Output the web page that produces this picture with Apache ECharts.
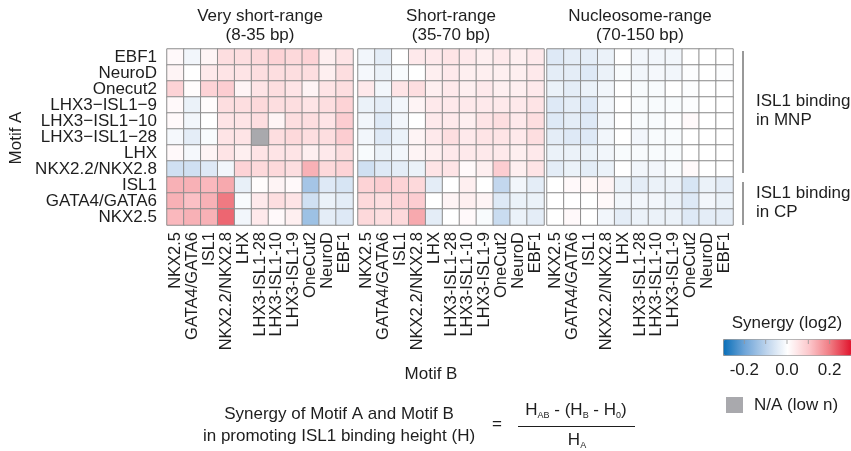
<!DOCTYPE html>
<html>
<head>
<meta charset="utf-8">
<script src="https://cdn.jsdelivr.net/npm/echarts@6/dist/echarts.min.js"></script>
<style>
  html, body { margin: 0; padding: 0; background: #fff; }
  #chart { width: 851px; height: 451px; }
</style>
</head>
<body>
<div id="chart"></div>
<script>
// Motif A (rows, top to bottom) and Motif B (columns, left to right)
const motifA = ['EBF1', 'NeuroD', 'Onecut2', 'LHX3\u2212ISL1\u22129', 'LHX3\u2212ISL1\u221210', 'LHX3\u2212ISL1\u221228', 'LHX', 'NKX2.2/NKX2.8', 'ISL1', 'GATA4/GATA6', 'NKX2.5']
const motifB = ['NKX2.5', 'GATA4/GATA6', 'ISL1', 'NKX2.2/NKX2.8', 'LHX', 'LHX3-ISL1-28', 'LHX3-ISL1-10', 'LHX3-ISL1-9', 'OneCut2', 'NeuroD', 'EBF1']
const panelTitles = ['Very short-range', 'Short-range', 'Nucleosome-range']
const panelRanges = ['(8-35 bp)', '(35-70 bp)', '(70-150 bp)']

// synergy (log2), null = N/A (low n)
const veryShort = [
  [0.01, -0.02, 0.02, 0.06, 0.06, 0.07, 0.08, 0.07, 0.08, 0.03, 0.05],
  [0.02, 0.0, 0.04, 0.05, 0.05, 0.06, 0.06, 0.06, 0.06, 0.03, 0.06],
  [0.08, 0.005, 0.08, 0.09, 0.02, 0.05, 0.06, 0.05, 0.02, 0.05, 0.06],
  [0.01, -0.03, 0.005, 0.06, 0.06, 0.07, 0.06, 0.06, 0.05, 0.06, 0.08],
  [0.01, -0.02, 0.0, 0.05, 0.05, 0.06, 0.02, 0.06, 0.06, 0.05, 0.09],
  [-0.015, -0.04, -0.01, 0.05, 0.05, null, 0.06, 0.07, 0.06, 0.06, 0.09],
  [0.01, -0.015, 0.02, 0.05, 0.03, 0.05, 0.05, 0.05, 0.03, 0.04, 0.06],
  [-0.07, -0.07, -0.05, -0.02, 0.08, 0.07, 0.07, 0.06, 0.13, 0.07, 0.08],
  [0.13, 0.13, 0.12, 0.14, -0.035, 0.005, 0.02, 0.01, -0.13, -0.05, -0.06],
  [0.13, 0.11, 0.13, 0.2, -0.01, 0.04, 0.06, 0.05, -0.07, -0.03, -0.04],
  [0.12, 0.13, 0.13, 0.22, -0.02, 0.04, 0.01, 0.03, -0.14, -0.04, -0.05]
]
const shortRange = [
  [-0.02, -0.04, 0.0, 0.04, 0.04, 0.05, 0.04, 0.03, 0.04, 0.03, 0.04],
  [-0.015, -0.03, -0.01, 0.0, 0.03, 0.04, 0.03, 0.03, 0.03, 0.03, 0.04],
  [0.04, -0.02, 0.05, 0.06, 0.03, 0.04, 0.03, 0.04, 0.03, 0.03, 0.04],
  [-0.03, -0.04, -0.02, 0.02, 0.04, 0.04, 0.04, 0.04, 0.04, 0.04, 0.05],
  [-0.02, -0.05, -0.02, 0.0, 0.04, 0.04, 0.03, 0.05, 0.06, 0.04, 0.06],
  [-0.02, -0.05, -0.03, 0.02, 0.04, 0.06, 0.04, 0.05, 0.05, 0.04, 0.06],
  [-0.01, -0.03, -0.02, 0.02, 0.03, 0.04, 0.04, 0.04, 0.04, 0.03, 0.04],
  [-0.07, -0.05, -0.04, -0.03, 0.05, 0.05, 0.01, 0.03, 0.09, 0.03, 0.05],
  [0.08, 0.09, 0.08, 0.07, -0.04, 0.0, 0.03, 0.0, -0.09, -0.02, -0.04],
  [0.07, 0.06, 0.08, 0.09, 0.0, 0.02, 0.03, 0.02, -0.05, -0.03, -0.03],
  [0.07, 0.06, 0.07, 0.14, -0.04, 0.0, 0.01, -0.01, -0.08, -0.03, -0.04]
]
const nucleosome = [
  [-0.05, -0.04, -0.04, -0.03, 0.0, -0.02, -0.02, -0.02, 0.0, 0.0, 0.0],
  [-0.04, -0.04, -0.05, -0.03, -0.01, -0.02, -0.015, -0.02, -0.005, 0.0, -0.005],
  [-0.03, -0.04, -0.03, -0.02, 0.0, -0.01, -0.01, 0.0, -0.005, 0.0, 0.0],
  [-0.05, -0.04, -0.05, -0.02, 0.0, -0.01, -0.01, -0.01, -0.005, 0.0, 0.0],
  [-0.05, -0.04, -0.05, -0.02, 0.0, -0.01, -0.01, -0.005, 0.01, 0.0, 0.0],
  [-0.04, -0.05, -0.05, -0.02, 0.0, -0.02, -0.01, -0.01, 0.0, 0.0, 0.0],
  [-0.03, -0.03, -0.03, -0.02, -0.01, -0.01, -0.01, -0.01, 0.0, 0.0, 0.0],
  [-0.04, -0.03, -0.04, -0.03, 0.0, -0.02, -0.02, -0.01, 0.01, 0.0, 0.0],
  [0.0, 0.01, 0.015, 0.02, -0.03, -0.04, -0.03, -0.03, -0.06, -0.03, -0.04],
  [0.0, 0.0, 0.0, 0.01, -0.02, -0.02, -0.02, -0.03, -0.05, -0.02, -0.03],
  [0.0, 0.01, 0.0, -0.02, -0.04, -0.03, -0.03, -0.03, -0.05, -0.04, -0.04]
]
const colorTicks = [-0.2, 0.0, 0.2]

const chart = echarts.init(document.getElementById('chart'))
const font = '"Liberation Sans", Arial, sans-serif'
const ink = '#1e1e1e'
const panels = [veryShort, shortRange, nucleosome]
const gridLeft = [167, 358, 547]
const gridTop = 49
const gridW = 186
const gridH = 176
const vmin = -0.3
const vmax = 0.3
const barLeft = 723
const barLen = 128

function toCells(m) {
  const out = []
  m.forEach((row, r) => row.forEach((v, c) => {
    if (v !== null) out.push([c, r, v])
  }))
  return out
}
function naCells(m) {
  const out = []
  m.forEach((row, r) => row.forEach((v, c) => {
    if (v === null) out.push([c, r, 0])
  }))
  return out
}

const f17 = '17px ' + font
const graphic = []
panels.forEach((p, i) => {
  const cx = gridLeft[i] + gridW / 2
  graphic.push({ type: 'text', x: cx, y: 16, style: { text: panelTitles[i], font: f17, fill: ink, align: 'center', verticalAlign: 'middle' } })
  graphic.push({ type: 'text', x: cx, y: 35, style: { text: panelRanges[i], font: f17, fill: ink, align: 'center', verticalAlign: 'middle' } })
})
// group brackets on the right
graphic.push({ type: 'line', shape: { x1: 743, y1: 51, x2: 743, y2: 173 }, style: { stroke: '#333', lineWidth: 1 } })
graphic.push({ type: 'line', shape: { x1: 743, y1: 182, x2: 743, y2: 225 }, style: { stroke: '#333', lineWidth: 1 } })
const sideText = [['ISL1 binding', 101], ['in MNP', 120], ['ISL1 binding', 193], ['in CP', 212]]
sideText.forEach(([t, y]) => {
  graphic.push({ type: 'text', x: 756, y: y, style: { text: t, font: f17, fill: ink, verticalAlign: 'middle' } })
})
// axis names
graphic.push({ type: 'text', x: 16, y: 138, rotation: Math.PI / 2, style: { text: 'Motif A', font: f17, fill: ink, align: 'center', verticalAlign: 'middle' } })
graphic.push({ type: 'text', x: 431, y: 374, style: { text: 'Motif B', font: f17, fill: ink, align: 'center', verticalAlign: 'middle' } })
// colour bar title, ticks, labels
graphic.push({ type: 'text', x: 787, y: 323, style: { text: 'Synergy (log2)', font: f17, fill: ink, align: 'center', verticalAlign: 'middle' } })
;[-0.2, -0.1, 0.0, 0.1, 0.2].forEach(v => {
  const x = barLeft + (v - vmin) / (vmax - vmin) * barLen
  graphic.push({ type: 'line', z: 100, shape: { x1: x, y1: 340, x2: x, y2: 344 }, style: { stroke: 'rgba(150,150,150,0.8)', lineWidth: 1 } })
})
colorTicks.forEach(v => {
  const x = barLeft + (v - vmin) / (vmax - vmin) * barLen
  graphic.push({ type: 'text', x: x, y: 370, style: { text: v.toFixed(1), font: f17, fill: ink, align: 'center', verticalAlign: 'middle' } })
})
// N/A legend
graphic.push({ type: 'rect', shape: { x: 726, y: 397, width: 17, height: 16 }, style: { fill: '#a9a9ad' } })
graphic.push({ type: 'text', x: 754, y: 405, style: { text: 'N/A (low n)', font: f17, fill: ink, verticalAlign: 'middle' } })
// formula
graphic.push({ type: 'text', x: 339, y: 414, style: { text: 'Synergy of Motif A and Motif B', font: f17, fill: ink, align: 'center', verticalAlign: 'middle' } })
graphic.push({ type: 'text', x: 339, y: 436, style: { text: 'in promoting ISL1 binding height (H)', font: f17, fill: ink, align: 'center', verticalAlign: 'middle' } })
graphic.push({ type: 'text', x: 497, y: 424, style: { text: '=', font: f17, fill: ink, align: 'center', verticalAlign: 'middle' } })
graphic.push({ type: 'line', shape: { x1: 518, y1: 426.5, x2: 635, y2: 426.5 }, style: { stroke: ink, lineWidth: 1 } })
const subStyle = { fontSize: 9, fontFamily: font, fill: ink, verticalAlign: 'bottom', padding: [12, 0, 0, 0] }
graphic.push({ type: 'text', x: 576, y: 410, style: {
  text: 'H{s|AB} - (H{s|B} - H{s|0})', font: f17, fill: ink, align: 'center', verticalAlign: 'middle',
  rich: { s: subStyle }
} })
graphic.push({ type: 'text', x: 577, y: 440, style: {
  text: 'H{s|A}', font: f17, fill: ink, align: 'center', verticalAlign: 'middle',
  rich: { s: subStyle }
} })

const option = {
  animation: false,
  backgroundColor: '#fff',
  grid: gridLeft.map(l => ({ left: l, top: gridTop, width: gridW, height: gridH })),
  xAxis: gridLeft.map((l, i) => ({
    type: 'category', gridIndex: i, data: motifB,
    axisLine: { show: false }, axisTick: { show: false }, splitArea: { show: false },
    axisLabel: { rotate: 90, margin: 7, fontSize: 16.5, fontFamily: font, color: ink, interval: 0 }
  })),
  yAxis: gridLeft.map((l, i) => ({
    type: 'category', gridIndex: i, data: motifA, inverse: true,
    axisLine: { show: false }, axisTick: { show: false }, splitArea: { show: false },
    axisLabel: { show: i === 0, margin: 10, fontSize: 17, fontFamily: font, color: ink, interval: 0 }
  })),
  visualMap: {
    type: 'continuous', min: vmin, max: vmax, seriesIndex: [0, 1, 2],
    orient: 'horizontal', left: barLeft, top: 339,
    itemWidth: 16, itemHeight: barLen, padding: 0,
    calculable: false, borderColor: '#8f8f8f', borderWidth: 1,
    inRange: { color: ['#0a6fb8', '#6fa5d8', '#bcd3ec', '#ffffff', '#fcc8cc', '#f07a82', '#e0142d'] }
  },
  graphic: graphic,
  series: panels.map((m, i) => ({
    type: 'heatmap', xAxisIndex: i, yAxisIndex: i, data: toCells(m),
    itemStyle: { borderColor: '#8c8c8c', borderWidth: 1 },
    emphasis: { disabled: true }
  })).concat(panels.map((m, i) => ({
    type: 'heatmap', xAxisIndex: i, yAxisIndex: i, data: naCells(m),
    itemStyle: { color: '#a9a9ad', borderColor: '#8c8c8c', borderWidth: 1 },
    emphasis: { disabled: true }
  })))
}
chart.setOption(option)
window.addEventListener('resize', () => {
  chart.resize()
})
</script>
</body>
</html>
